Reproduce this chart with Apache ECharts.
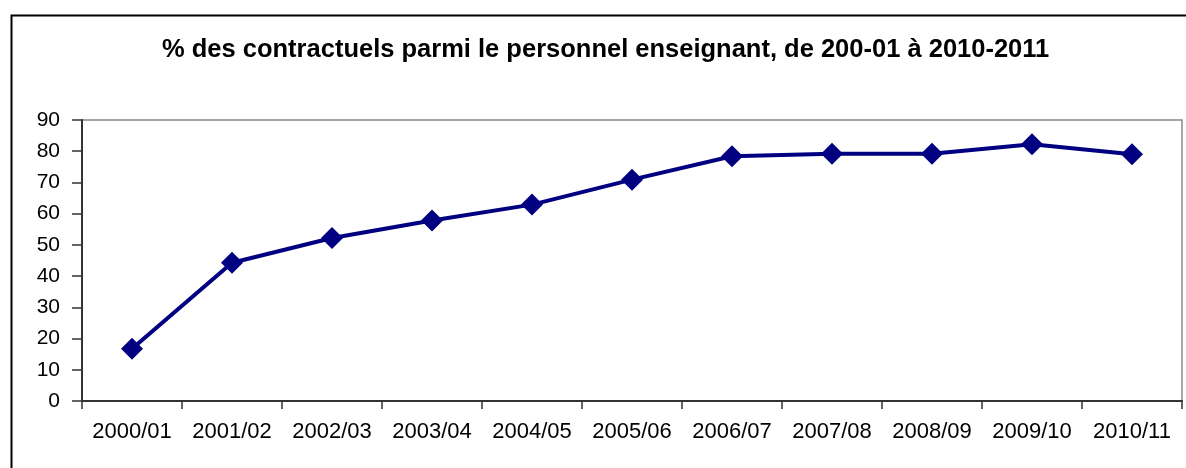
<!DOCTYPE html>
<html>
<head>
<meta charset="utf-8">
<script src="https://cdn.jsdelivr.net/npm/echarts@6/dist/echarts.min.js"></script>
<style>
  html, body { margin: 0; padding: 0; background: #fff; }
  #chart { width: 1186px; height: 468px; }
</style>
</head>
<body>
<div id="chart"></div>
<script>
  // années scolaires
  const categories = ["2000/01", "2001/02", "2002/03", "2003/04", "2004/05", "2005/06",
    "2006/07", "2007/08", "2008/09", "2009/10", "2010/11"];
  // % des contractuels
  const values = [16.7, 44.3, 52.2, 57.8, 62.9, 70.9, 78.4, 79.2, 79.2, 82.2, 79.0];
  const yTicks = [0, 10, 20, 30, 40, 50, 60, 70, 80, 90];

  const chart = echarts.init(document.getElementById("chart"));

  const option = {
    animation: false,
    title: {
      text: "% des contractuels parmi le personnel enseignant, de 200-01 à 2010-2011",
      left: 157,
      top: 32,
      textStyle: {
        fontFamily: "Liberation Sans",
        fontWeight: "bold",
        fontSize: 25.5,
        color: "#000"
      }
    },
    graphic: [
      {
        type: "rect",
        shape: { x: 11.5, y: 15.5, width: 1300, height: 600 },
        style: { fill: "none", stroke: "#000", lineWidth: 2 },
        silent: true
      }
    ],
    grid: {
      left: 82,
      right: 4,
      top: 120,
      bottom: 67,
      show: true,
      borderColor: "#888",
      borderWidth: 1.5,
      backgroundColor: "transparent"
    },
    xAxis: {
      type: "category",
      data: categories,
      boundaryGap: true,
      axisLine: { lineStyle: { color: "#333", width: 2 } },
      axisTick: { show: true, length: 8, inside: false, lineStyle: { color: "#333", width: 1.5 } },
      axisLabel: {
        margin: 20,
        fontFamily: "Liberation Sans",
        fontSize: 22,
        color: "#000",
        interval: 0
      },
      splitLine: { show: false }
    },
    yAxis: {
      type: "value",
      min: yTicks[0],
      max: yTicks[yTicks.length - 1],
      interval: 10,
      axisLine: { show: true, lineStyle: { color: "#333", width: 2 } },
      axisTick: { show: true, length: 10, lineStyle: { color: "#333", width: 1.5 } },
      axisLabel: {
        margin: 22,
        fontFamily: "Liberation Sans",
        fontSize: 21,
        color: "#000"
      },
      splitLine: { show: false }
    },
    series: [
      {
        type: "line",
        data: values,
        symbol: "diamond",
        symbolSize: 22,
        lineStyle: { color: "#000080", width: 4 },
        itemStyle: { color: "#000080" }
      }
    ]
  };

  chart.setOption(option);
</script>
</body>
</html>
